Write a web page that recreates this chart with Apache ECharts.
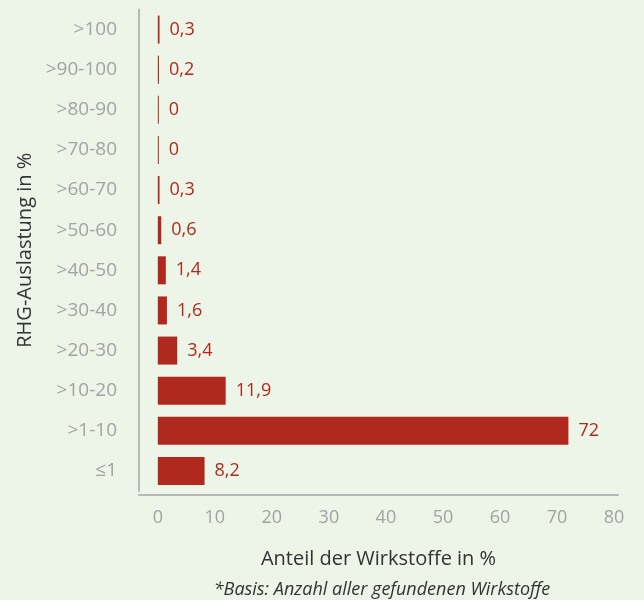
<!DOCTYPE html>
<html>
<head>
<meta charset="utf-8">
<script src="https://cdn.jsdelivr.net/npm/echarts@6/dist/echarts.min.js"></script>
<style>
  html, body { margin: 0; padding: 0; background: #edf4e8; }
  #chart { width: 644px; height: 600px; }
</style>
</head>
<body>
<div id="chart"></div>
<script>
// RHG-Auslastung Klassen, von oben nach unten
const categories = ['>100', '>90-100', '>80-90', '>70-80', '>60-70', '>50-60', '>40-50', '>30-40', '>20-30', '>10-20', '>1-10', '≤1'];
const shares = [0.3, 0.2, 0, 0, 0.3, 0.6, 1.4, 1.6, 3.4, 11.9, 72, 8.2];
const xTicks = [0, 10, 20, 30, 40, 50, 60, 70, 80];

const red = '#b0291f';
const grey = '#a3a3a3';
const font = 'Open Sans';

let chart = echarts.init(document.getElementById('chart'));
chart.setOption({
  backgroundColor: '#edf4e8',
  textStyle: { fontFamily: font },
  title: {
    text: '*Basis: Anzahl aller gefundenen Wirkstoffe',
    left: 377,
    textAlign: 'center',
    top: 576,
    textStyle: {
      fontFamily: font,
      fontSize: 18,
      fontStyle: 'italic',
      fontWeight: 'normal',
      color: '#333',
    },
  },
  grid: {
    left: 139,
    right: 26,
    top: 9.5,
    bottom: 109,
  },
  xAxis: {
    type: 'value',
    min: -3.3,
    max: 80.7,
    offset: 4,
    splitLine: { show: false },
    axisTick: { show: false },
    axisLine: { show: true, lineStyle: { color: '#b7b7b7', width: 2 } },
    axisLabel: {
      customValues: xTicks,
      color: grey,
      fontSize: 18,
      margin: 14,
    },
    name: 'Anteil der Wirkstoffe in %',
    nameLocation: 'middle',
    nameGap: 54,
    nameTextStyle: { fontSize: 20, color: '#333' },
  },
  yAxis: {
    type: 'category',
    data: categories,
    inverse: true,
    axisTick: { show: false },
    axisLine: { show: true, onZero: false, lineStyle: { color: '#b7b7b7', width: 2 } },
    axisLabel: { color: grey, fontSize: 19, margin: 22 },
    name: 'RHG-Auslastung in %',
    nameLocation: 'middle',
    nameGap: 102,
    nameTextStyle: { fontSize: 20, color: '#333' },
  },
  series: [{
    type: 'bar',
    data: shares,
    barWidth: 28,
    barMinHeight: 1,
    itemStyle: { color: red },
    label: {
      show: true,
      position: 'right',
      distance: 10,
      color: red,
      fontSize: 18,
      formatter: (p) => String(p.value).replace('.', ','),
    },
  }],
});
</script>
</body>
</html>
